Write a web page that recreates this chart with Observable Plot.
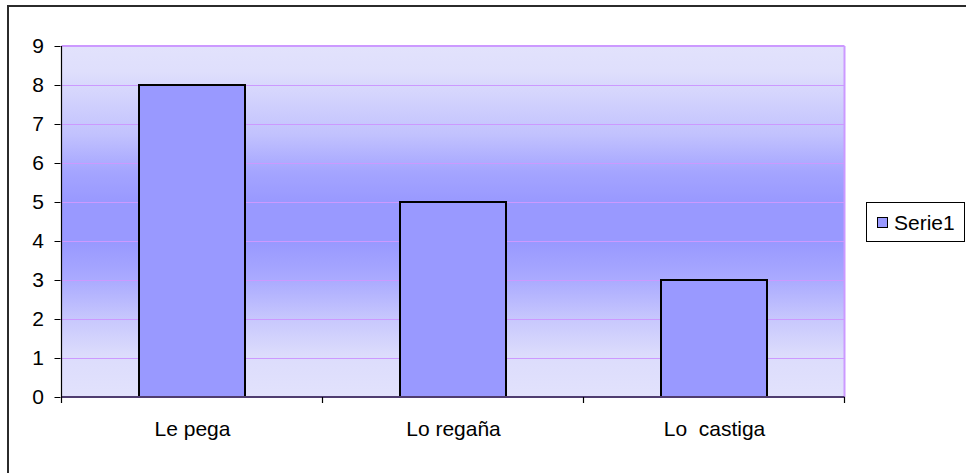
<!DOCTYPE html>
<html>
<head>
<meta charset="utf-8">
<script src="https://cdn.jsdelivr.net/npm/d3@7"></script>
<script src="https://cdn.jsdelivr.net/npm/@observablehq/plot@0.6"></script>
<style>
  html, body { margin: 0; padding: 0; background: #fff; overflow: hidden; }
  #chart { position: relative; width: 966px; height: 473px; overflow: hidden;
           font-family: "Liberation Sans", Arial, sans-serif; color: #000; }
  #chart svg text { white-space: pre; }
  #outline { position: absolute; left: 7px; top: 5px; width: 1400px; height: 900px;
             border: 2px solid #2b2b2b; box-sizing: border-box; pointer-events: none; }
  #legend { position: absolute; left: 866px; top: 202px; width: 99px; height: 40px;
            border: 1px solid #000; box-sizing: border-box; background: #fff;
            display: flex; align-items: center; font-size: 21px; line-height: 1; }
  #legend .swatch { width: 11px; height: 11px; box-sizing: border-box; margin-left: 10px;
                    border: 1px solid #000; }
  #legend .name { margin-left: 6px; }
</style>
</head>
<body>
<div id="chart"></div>
<script>
// Answers per category
const categories = ["Le pega", "Lo regaña", "Lo  castiga"];
const values = [8, 5, 3];
const yTicks = [0, 1, 2, 3, 4, 5, 6, 7, 8, 9];
const seriesNames = ["Serie1"];
const seriesColors = ["#9999ff"];

const rows = categories.map((c, i) => ({category: c, value: values[i]}));

// Vertical wash behind the bars: pale at the edges, saturated in the middle
const bgStops = [
  [0.00, "#e2e2fc"], [0.07, "#dfdffc"], [0.25, "#c2c2fe"], [0.36, "#a4a4ff"],
  [0.44, "#9999ff"], [0.56, "#9999ff"], [0.66, "#a9a9ff"], [0.78, "#c8c8fd"],
  [0.88, "#dcdcfc"], [1.00, "#e2e2fc"]
];

const gradientDefs = () => {
  const defs = d3.create("svg:defs");
  const lg = defs.append("linearGradient")
    .attr("id", "plotBg").attr("x1", 0).attr("y1", 0).attr("x2", 0).attr("y2", 1);
  for (const [o, c] of bgStops) lg.append("stop").attr("offset", o).attr("stop-color", c);
  return defs.node();
};

// Plot-area edges and the category-boundary ticks under the x axis
const areaEdges = (index, scales) => {
  const {x, y} = scales;
  const bw = x.bandwidth();
  const step = x(categories[1]) - x(categories[0]);
  const gap = (step - bw) / 2;
  const bounds = categories.map(c => x(c) - gap);
  bounds.push(x(categories[categories.length - 1]) + bw + gap);
  const top = y(yTicks[yTicks.length - 1]), bottom = y(0);
  const left = bounds[0], right = bounds[bounds.length - 1];
  const g = d3.create("svg:g");
  g.append("line").attr("x1", right).attr("x2", right).attr("y1", top).attr("y2", bottom)
    .attr("stroke", "#cc99ff").attr("stroke-width", 2);
  g.append("line").attr("x1", left).attr("x2", right).attr("y1", top).attr("y2", top)
    .attr("stroke", "#cc99ff").attr("stroke-width", 2);
  g.append("line").attr("x1", left).attr("x2", right).attr("y1", bottom).attr("y2", bottom)
    .attr("stroke", "#4f3d70").attr("stroke-width", 2);
  g.append("line").attr("x1", left).attr("x2", left).attr("y1", top).attr("y2", bottom)
    .attr("stroke", "#000").attr("stroke-width", 1.2);
  for (const b of bounds) {
    g.append("line").attr("x1", b).attr("x2", b).attr("y1", bottom).attr("y2", bottom + 6)
      .attr("stroke", "#000").attr("stroke-width", 1.2);
  }
  return g.node();
};

const chart = Plot.plot({
  width: 966,
  height: 473,
  marginLeft: 60.5,
  marginRight: 121.5,
  marginTop: 46,
  marginBottom: 76,
  style: {background: "transparent", fontFamily: "'Liberation Sans', Arial, sans-serif",
          fontSize: "21px", color: "#000", overflow: "visible"},
  x: {domain: categories, paddingInner: 0.594, paddingOuter: 0.297, label: null},
  y: {domain: [0, 9], label: null},
  marks: [
    gradientDefs,
    Plot.frame({fill: "url(#plotBg)", stroke: "none"}),
    Plot.gridY(yTicks.filter(t => t > 0 && t < 9), {stroke: "#cc99ff", strokeOpacity: 1, strokeWidth: 1}),
    Plot.barY(rows, {x: "category", y: "value", fill: seriesColors[0], stroke: "#000", strokeWidth: 2}),
    areaEdges,
    Plot.axisY({ticks: yTicks, tickSize: 6, tickPadding: 11, fontSize: 21, tickFormat: d => String(d)}),
    Plot.axisX({tickSize: 0, tickPadding: 24, fontSize: 21})
  ]
});

const root = document.getElementById("chart");
root.appendChild(chart);

const outline = document.createElement("div");
outline.id = "outline";
root.appendChild(outline);

const legend = document.createElement("div");
legend.id = "legend";
seriesNames.forEach((name, i) => {
  const sw = document.createElement("span");
  sw.className = "swatch";
  sw.style.background = seriesColors[i];
  const label = document.createElement("span");
  label.className = "name";
  label.textContent = name;
  legend.appendChild(sw);
  legend.appendChild(label);
});
root.appendChild(legend);
</script>
</body>
</html>
